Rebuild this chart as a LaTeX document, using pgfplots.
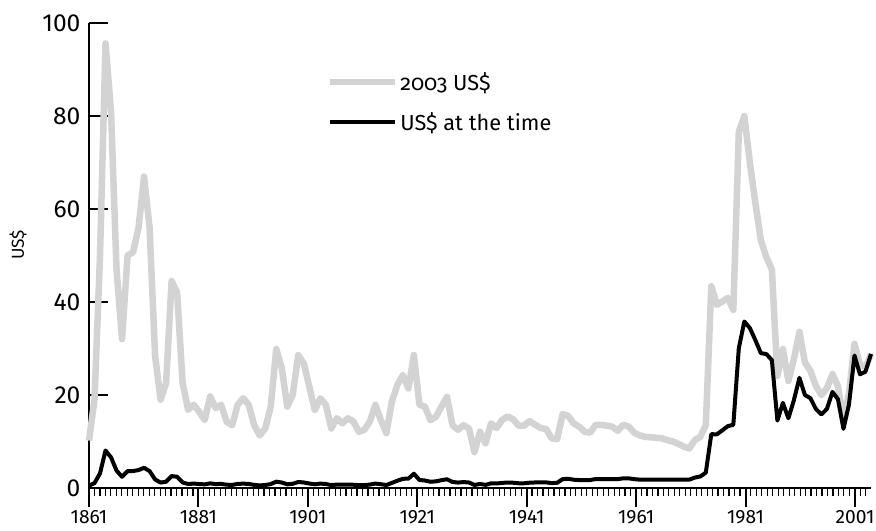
\documentclass[border=0pt]{standalone}
\usepackage{fontspec}
\setmainfont{Fira Sans}
\usepackage{pgfplots}
\usepackage{pgfplotstable}
\pgfplotsset{compat=1.18}
\definecolor{lgray}{RGB}{211,211,211}

\pgfplotstableread{
year real nominal
1861 10.2 0.49
1862 19.0 1.05
1863 50.0 3.15
1864 95.6 8.06
1865 81.0 6.59
1866 47.0 3.74
1867 32.0 2.41
1868 50.0 3.63
1869 50.7 3.64
1870 56.0 3.86
1871 67.0 4.34
1872 56.0 3.64
1873 28.5 1.83
1874 19.0 1.17
1875 22.6 1.35
1876 44.5 2.56
1877 42.0 2.42
1878 22.6 1.19
1879 16.8 0.86
1880 17.9 0.95
1881 16.4 0.86
1882 14.6 0.78
1883 19.7 1.00
1884 17.2 0.84
1885 17.9 0.88
1886 14.2 0.71
1887 13.5 0.67
1888 17.9 0.88
1889 19.3 0.94
1890 17.9 0.87
1891 13.5 0.67
1892 11.3 0.56
1893 12.8 0.64
1894 17.5 0.84
1895 29.9 1.36
1896 25.9 1.18
1897 17.5 0.79
1898 20.1 0.91
1899 28.6 1.29
1900 26.8 1.19
1901 21.8 0.96
1902 16.8 0.80
1903 19.3 0.94
1904 17.9 0.86
1905 12.8 0.62
1906 15.0 0.73
1907 13.9 0.72
1908 15.0 0.72
1909 14.3 0.70
1910 12.1 0.61
1911 12.5 0.61
1912 14.3 0.74
1913 17.9 0.95
1914 14.6 0.81
1915 11.8 0.64
1916 18.6 1.10
1917 22.2 1.56
1918 24.3 1.98
1919 21.4 2.01
1920 28.6 3.07
1921 17.9 1.73
1922 17.5 1.61
1923 14.6 1.34
1924 15.3 1.43
1925 17.5 1.68
1926 19.6 1.88
1927 13.5 1.30
1928 12.5 1.17
1929 13.5 1.27
1930 12.8 1.19
1931 7.7 0.65
1932 12.1 0.87
1933 9.6 0.67
1934 13.9 1.00
1935 12.9 0.97
1936 14.6 1.09
1937 15.4 1.18
1938 14.8 1.13
1939 13.4 1.02
1940 13.4 1.02
1941 14.4 1.14
1942 13.6 1.19
1943 12.9 1.20
1944 12.7 1.21
1945 10.7 1.05
1946 10.5 1.12
1947 15.9 1.90
1948 15.5 1.99
1949 13.9 1.78
1950 13.2 1.71
1951 12.1 1.71
1952 11.9 1.71
1953 13.6 1.93
1954 13.6 1.93
1955 13.4 1.93
1956 13.2 1.93
1957 12.3 1.90
1958 13.6 2.08
1959 13.2 2.08
1960 11.9 1.90
1961 11.3 1.80
1962 11.0 1.80
1963 10.9 1.80
1964 10.8 1.80
1965 10.7 1.80
1966 10.3 1.80
1967 10.0 1.80
1968 9.5 1.80
1969 8.9 1.80
1970 8.5 1.80
1971 10.3 2.24
1972 11.0 2.48
1973 13.5 3.29
1974 43.4 11.58
1975 39.4 11.53
1976 40.1 12.40
1977 40.9 13.30
1978 38.3 13.60
1979 76.6 30.10
1980 80.0 35.80
1981 70.0 34.40
1982 61.3 31.80
1983 53.3 29.00
1984 49.6 28.80
1985 47.0 27.50
1986 24.1 14.50
1987 29.9 18.30
1988 23.0 15.00
1989 27.7 18.90
1990 33.6 23.70
1991 27.0 20.00
1992 25.2 19.32
1993 21.9 16.97
1994 20.0 15.82
1995 21.5 17.02
1996 24.5 20.67
1997 21.9 19.09
1998 14.5 12.72
1999 20.4 17.97
2000 31.0 28.50
2001 26.6 24.44
2002 25.9 25.02
2003 28.8 28.83
}\oil

\begin{document}
\begin{tikzpicture}
\begin{axis}[
  scale only axis, width=782bp, height=465bp,
  xmin=1861, xmax=2003, ymin=0, ymax=100,
  axis x line=bottom, axis y line=left,
  axis line style={-, line width=1.8bp},
  xtick={1861,1880.869,1900.738,1920.608,1940.477,1960.346,1980.215,2000.084},
  xticklabels={1861,1881,1901,1921,1941,1961,1981,2001},
  minor xtick={1861,1861.99346,...,2003},
  ytick={0,20,...,100},
  xtick align=outside, ytick align=inside,
  major tick length=19bp, minor tick length=8bp,
  every major tick/.append style={line width=2bp, black},
  every minor tick/.append style={line width=1.2bp, black},
  /pgf/number format/assume math mode=true,
  /pgf/number format/1000 sep={},
  xticklabel style={font=\fontsize{19.3}{22}\selectfont},
  yticklabel style={font=\fontsize{24.7}{28}\selectfont, xshift=-5bp},
  ylabel={US\$},
  every axis y label/.style={at={(axis description cs:0,0.523)}, xshift=-71bp, rotate=90, anchor=center, font=\fontsize{17.4}{20}\selectfont},
  legend style={draw=none, fill=none, at={(0.30,0.830)}, anchor=west, font=\fontsize{21.8}{24}\selectfont, row sep=17bp, legend cell align=left},
  legend image code/.code={\draw[#1] (0bp,0bp) -- (65bp,0bp);},
  clip=false,
]
\addplot[lgray, line width=6.5bp, line join=round] table[x=year, y=real] {\oil};
\addlegendentry{{\addfontfeatures{Numbers=OldStyle}2003} US\$}
\addplot[black, line width=4bp, line join=round] table[x=year, y=nominal] {\oil};
\addlegendentry{US\$ at the time}
\end{axis}
\pgfresetboundingbox
\path[use as bounding box] (-89bp,-43bp) rectangle (787bp,488bp);
\end{tikzpicture}
\end{document}
